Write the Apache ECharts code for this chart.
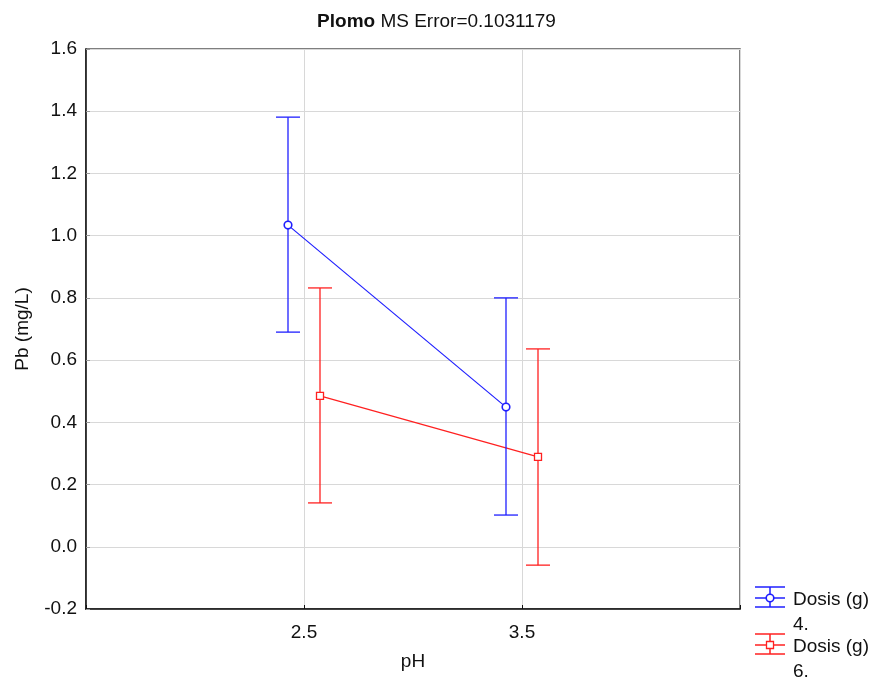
<!DOCTYPE html>
<html>
<head>
<meta charset="utf-8">
<script src="https://cdn.jsdelivr.net/npm/echarts@6/dist/echarts.min.js"></script>
<style>
  html, body { margin: 0; padding: 0; background: #fff; }
  #chart { width: 873px; height: 677px; }
</style>
</head>
<body>
<div id="chart"></div>
<script>
// pH levels on the x axis
const phLevels = [2.5, 3.5];
// Dosis (g) 4.
const dose4Mean = [1.034, 0.449];
const dose4Lower = [0.690, 0.102];
const dose4Upper = [1.381, 0.800];
// Dosis (g) 6.
const dose6Mean = [0.485, 0.289];
const dose6Lower = [0.141, -0.059];
const dose6Upper = [0.832, 0.636];
const xTickLabels = ['2.5', '3.5'];

const BLUE = '#1f1fff';
const RED = '#ff2020';
const FONT = 'Liberation Sans, Arial, sans-serif';
const FS = 19;

const chart = echarts.init(document.getElementById('chart'));

function buildData(mean, lower, upper) {
  return phLevels.map((x, i) => [x, mean[i], lower[i], upper[i]]);
}

// draws error bar + marker + segment to next point, dodged by a pixel offset
function makeRender(offset, color, marker, data) {
  return function (params, api) {
    const i = params.dataIndex;
    const x = api.value(0);
    const p = api.coord([x, api.value(1)]);
    const lo = api.coord([x, api.value(2)]);
    const hi = api.coord([x, api.value(3)]);
    const px = p[0] + offset;
    const cap = 12;
    const lineStyle = { stroke: color, lineWidth: 1.3 };
    const children = [
      { type: 'line', shape: { x1: px, y1: hi[1], x2: px, y2: lo[1] }, style: lineStyle },
      { type: 'line', shape: { x1: px - cap, y1: hi[1], x2: px + cap, y2: hi[1] }, style: lineStyle },
      { type: 'line', shape: { x1: px - cap, y1: lo[1], x2: px + cap, y2: lo[1] }, style: lineStyle },
    ];
    if (i < data.length - 1) {
      const next = api.coord([data[i + 1][0], data[i + 1][1]]);
      children.push({
        type: 'line',
        shape: { x1: px, y1: p[1], x2: next[0] + offset, y2: next[1] },
        style: { stroke: color, lineWidth: 1.2 },
      });
    }
    if (marker === 'circle') {
      children.push({ type: 'circle', shape: { cx: px, cy: p[1], r: 3.8 }, style: { fill: '#fff', stroke: color, lineWidth: 1.6 }, z2: 10 });
    } else {
      children.push({ type: 'rect', shape: { x: px - 3.5, y: p[1] - 3.5, width: 7, height: 7 }, style: { fill: '#fff', stroke: color, lineWidth: 1.3 }, z2: 10 });
    }
    return { type: 'group', children };
  };
}

const data4 = buildData(dose4Mean, dose4Lower, dose4Upper);
const data6 = buildData(dose6Mean, dose6Lower, dose6Upper);

function legendItem(y, color, marker, label) {
  const ls = { stroke: color, lineWidth: 1.5 };
  const cx = 770;
  return [
    { type: 'line', shape: { x1: 755, y1: y - 11, x2: 785, y2: y - 11 }, style: ls },
    { type: 'line', shape: { x1: 755, y1: y, x2: 785, y2: y }, style: ls },
    { type: 'line', shape: { x1: 755, y1: y + 9, x2: 785, y2: y + 9 }, style: ls },
    { type: 'line', shape: { x1: cx, y1: y - 11, x2: cx, y2: y + 9 }, style: ls },
    marker === 'circle'
      ? { type: 'circle', shape: { cx, cy: y, r: 3.8 }, style: { fill: '#fff', stroke: color, lineWidth: 1.6 } }
      : { type: 'rect', shape: { x: cx - 3.5, y: y - 3.5, width: 7, height: 7 }, style: { fill: '#fff', stroke: color, lineWidth: 1.3 } },
    { type: 'text', x: 793, y: y - 10, style: { text: label, fill: '#111', font: FS + 'px ' + FONT, lineHeight: 24.5 } },
  ];
}

const option = {
  animation: false,
  textStyle: { fontFamily: FONT },
  title: {
    text: '{b|Plomo} MS Error=0.1031179',
    left: 'center',
    top: 7,
    textStyle: {
      fontSize: FS,
      fontWeight: 'normal',
      color: '#111',
      fontFamily: FONT,
      rich: { b: { fontWeight: 'bold', fontSize: FS, color: '#111', fontFamily: FONT } },
    },
  },
  grid: {
    left: 86, right: 133, top: 49, bottom: 68,
    show: true, borderColor: '#555', borderWidth: 1.5, backgroundColor: 'transparent',
  },
  xAxis: {
    type: 'value',
    min: 1.5,
    max: 4.5,
    interval: 1,
    name: 'pH',
    nameLocation: 'middle',
    nameGap: 43,
    nameTextStyle: { fontSize: FS, color: '#111', fontFamily: FONT },
    axisLine: { show: true, onZero: false, lineStyle: { color: '#111', width: 1.5 } },
    axisTick: { show: true, inside: true, length: 4, lineStyle: { color: '#111' } },
    axisLabel: {
      fontSize: FS, color: '#111', margin: 14, fontFamily: FONT,
      formatter: (v) => {
        const idx = phLevels.findIndex((p) => Math.abs(p - v) < 1e-6);
        return idx >= 0 ? xTickLabels[idx] : '';
      },
    },
    splitLine: { show: true, lineStyle: { color: '#d8d8d8' } },
  },
  yAxis: {
    type: 'value',
    min: -0.2,
    max: 1.6,
    interval: 0.2,
    name: 'Pb (mg/L)',
    nameLocation: 'middle',
    nameGap: 54,
    nameTextStyle: { fontSize: FS, color: '#111', fontFamily: FONT },
    axisLine: { show: true, onZero: false, lineStyle: { color: '#111', width: 1.5 } },
    axisTick: { show: true, inside: true, length: 4, lineStyle: { color: '#999' } },
    axisLabel: {
      fontSize: FS, color: '#111', margin: 9, fontFamily: FONT,
      formatter: (v) => v.toFixed(1),
    },
    splitLine: { show: true, lineStyle: { color: '#d8d8d8' } },
  },
  series: [
    {
      name: 'Dosis (g) 4.',
      type: 'custom',
      renderItem: makeRender(-16, BLUE, 'circle', data4),
      data: data4,
      encode: { x: 0, y: [1, 2, 3] },
      z: 3,
    },
    {
      name: 'Dosis (g) 6.',
      type: 'custom',
      renderItem: makeRender(16, RED, 'rect', data6),
      data: data6,
      encode: { x: 0, y: [1, 2, 3] },
      z: 2,
    },
  ],
  graphic: [
    ...legendItem(598, BLUE, 'circle', 'Dosis (g)\n4.'),
    ...legendItem(645, RED, 'rect', 'Dosis (g)\n6.'),
  ],
};

chart.setOption(option);
</script>
</body>
</html>
